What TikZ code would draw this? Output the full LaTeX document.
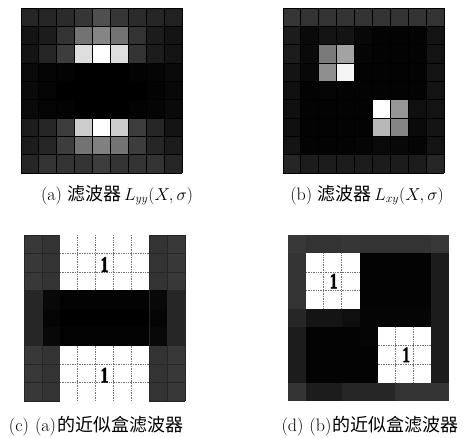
\documentclass[tikz,border=0pt]{standalone}
\usepackage{fontspec}
\newfontfamily\cjk{Noto Sans CJK SC}
\newfontfamily\numfont[FakeBold=2.5]{Liberation Serif}
\newcommand\drawgrid[4]{%
  \foreach \rowv [count=\r from 0] in {#4} {
    \foreach \v [count=\c from 0] in \rowv {
      \pgfmathtruncatemacro\q{round(100*(\v)^1.35)}
      \fill[white!\q!black] ({#1+\c*17.9},{#2+\r*#3}) rectangle ++(17.9,#3);
    }
  }
}
\newcommand\gridlines[4]{% x0 y0 h style
  \foreach \i in {0,...,9} {
    \draw[#4] ({#1+\i*17.9},{#2}) -- ++(0,{9*#3});
    \draw[#4] ({#1},{#2+\i*#3}) -- ++({9*17.9},0);
  }
}
\begin{document}
\begin{tikzpicture}[x=1pt,y=-1pt]
\tikzset{
  darkline/.style={black,line width=0.9pt},
  softline/.style={black!85,line width=0.6pt},
  dotgrid/.style={black!55,densely dotted,line width=0.7pt},
  caption/.style={font=\fontsize{18}{19}\selectfont,anchor=center,inner sep=0pt},
  onelabel/.style={font=\numfont\bfseries\fontsize{22}{22}\selectfont,inner sep=0pt}
}
\useasboundingbox (0,0) rectangle (468,437);
\fill[white] (0,0) rectangle (468,437);

% ---------- (a) ----------
\drawgrid{21}{8}{18.35}{
 {0.25,0.25,0.27,0.32,0.42,0.32,0.27,0.25,0.22},
 {0.15,0.2,0.3,0.55,0.62,0.55,0.3,0.2,0.15},
 {0.15,0.25,0.35,0.9,1.0,0.9,0.3,0.2,0.15},
 {0.1,0.05,0.03,0,0,0,0.03,0.05,0.1},
 {0.1,0.05,0,0,0,0,0,0.04,0.08},
 {0.1,0.06,0.03,0,0,0,0.03,0.05,0.1},
 {0.2,0.25,0.35,0.85,1.0,0.85,0.35,0.25,0.15},
 {0.2,0.25,0.35,0.55,0.6,0.55,0.35,0.25,0.2},
 {0.25,0.3,0.3,0.3,0.35,0.3,0.3,0.3,0.25}}
\gridlines{21}{8}{18.35}{darkline}

% ---------- (b) ----------
\drawgrid{283}{8}{18.35}{
 {0.32,0.3,0.3,0.3,0.3,0.3,0.3,0.3,0.3},
 {0.2,0.1,0.15,0.15,0.08,0.03,0.03,0.03,0.15},
 {0.2,0.1,0.58,0.72,0.05,0.02,0.02,0.03,0.15},
 {0.15,0.08,0.65,0.97,0.03,0.02,0.02,0.03,0.15},
 {0.12,0.04,0.05,0.04,0.02,0.02,0.02,0.03,0.15},
 {0.12,0.02,0.02,0.02,0.02,1.0,0.68,0.12,0.15},
 {0.12,0.02,0.02,0.02,0.02,0.78,0.62,0.1,0.15},
 {0.15,0.03,0.03,0.03,0.05,0.1,0.08,0.05,0.15},
 {0.25,0.2,0.2,0.2,0.2,0.2,0.2,0.2,0.25}}
\gridlines{283}{8}{18.35}{darkline}

% ---------- (c) ----------
\drawgrid{24}{235}{18.44}{
 {0.33,0.3,1,1,1,1,1,0.3,0.33},
 {0.33,0.3,1,1,1,1,1,0.3,0.33},
 {0.33,0.3,1,1,1,1,1,0.3,0.33},
 {0.25,0.08,0.02,0.02,0.02,0.02,0.02,0.08,0.25},
 {0.25,0.05,0.0,0.0,0.0,0.0,0.0,0.05,0.25},
 {0.25,0.08,0.02,0.02,0.02,0.02,0.02,0.08,0.25},
 {0.33,0.3,1,1,1,1,1,0.3,0.33},
 {0.33,0.3,1,1,1,1,1,0.3,0.33},
 {0.33,0.3,1,1,1,1,1,0.3,0.33}}
\foreach \i in {0,1,7,8} \draw[softline] ({24+\i*17.9},235) -- ++(0,{9*18.44});
\draw[softline] ({24+9*17.9},235) -- ++(0,{9*18.44});
\foreach \j in {0,1,2} {
  \draw[softline] (24,{235+\j*18.44}) -- ++(2*17.9,0);
  \draw[softline] ({24+7*17.9},{235+\j*18.44}) -- ++(2*17.9,0);
  \draw[softline] (24,{235+(\j+7)*18.44}) -- ++(2*17.9,0);
  \draw[softline] ({24+7*17.9},{235+(\j+7)*18.44}) -- ++(2*17.9,0);
}
\foreach \yb in {0,6} {
  \foreach \i in {3,4,5,6} \draw[dotgrid] ({24+\i*17.9},{235+\yb*18.44}) -- ++(0,{3*18.44});
  \foreach \j in {1,2} \draw[dotgrid] ({24+2*17.9},{235+(\yb+\j)*18.44}) -- ++(5*17.9,0);
}
\node[onelabel] (c1) at ({24+4.5*17.9},{235+1.6*18.44}) {\scalebox{0.7}[1]{1}};
\node[onelabel] (c2) at ({24+4.5*17.9},{235+7.6*18.44}) {\scalebox{0.7}[1]{1}};

% ---------- (d) ----------
\drawgrid{288}{235}{18.44}{
 {0.33,0.3,0.3,0.32,0.3,0.3,0.3,0.3,0.33},
 {0.3,1,1,1,0.03,0.02,0.02,0.03,0.2},
 {0.3,1,1,1,0.03,0.02,0.02,0.03,0.2},
 {0.3,1,1,1,0.03,0.02,0.02,0.03,0.2},
 {0.25,0.15,0.15,0.12,0.05,0.05,0.05,0.05,0.2},
 {0.2,0.03,0.02,0.02,0.05,1,1,1,0.2},
 {0.2,0.03,0.02,0.02,0.03,1,1,1,0.2},
 {0.2,0.03,0.02,0.02,0.03,1,1,1,0.2},
 {0.3,0.2,0.2,0.25,0.25,0.25,0.3,0.3,0.3}}
\foreach \xb/\yb in {1/1,5/5} {
  \foreach \i in {1,2} \draw[dotgrid] ({288+(\xb+\i)*17.9},{235+\yb*18.44}) -- ++(0,{3*18.44});
  \foreach \j in {1,2} \draw[dotgrid] ({288+\xb*17.9},{235+(\yb+\j)*18.44}) -- ++(3*17.9,0);
}
\node[onelabel] (d1) at ({288+2.55*17.9},{235+2.5*18.44}) {\scalebox{0.7}[1]{1}};
\node[onelabel] (d2) at ({288+6.6*17.9},{235+6.5*18.44}) {\scalebox{0.7}[1]{1}};

% ---------- captions ----------
\node[caption] (capa) at (117,195) {(a)\hspace{5pt}{\cjk 滤波器}\hspace{3pt}$L_{yy}(X,\sigma)$};
\node[caption] (capb) at (367,195) {(b)\hspace{5pt}{\cjk 滤波器}\hspace{3pt}$L_{xy}(X,\sigma)$};
\node[caption] (capc) at (96,426) {(c)\hspace{6pt}(a)\hspace{1pt}{\cjk 的近似盒滤波器}};
\node[caption] (capd) at (370,426) {(d)\hspace{6pt}(b)\hspace{1pt}{\cjk 的近似盒滤波器}};
\end{tikzpicture}
\end{document}
